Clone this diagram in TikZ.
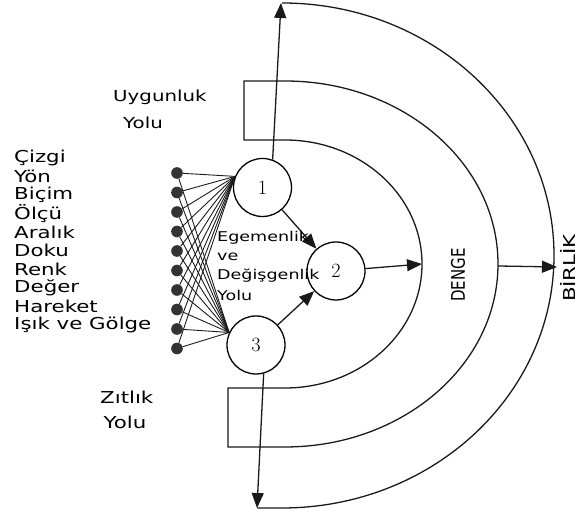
\documentclass[tikz,border=0pt]{standalone}
\usepackage{fontspec}
\newfontfamily\handfont[FakeStretch=1.3]{DejaVu Sans}
\newfontfamily\dikfont[FakeStretch=0.8]{DejaVu Sans}
\usetikzlibrary{arrows.meta,positioning,calc}
\tikzset{
  yolline/.style={line width=1.1pt, black!90},
  yolarrow/.style={yolline, -{Triangle[length=4.5mm,width=3.6mm]}},
  bag/.style={line width=0.75pt, black!90},
  unsur/.style={circle, fill=black!80, inner sep=0pt, minimum size=3.5mm},
  ilke/.style={draw, circle, line width=1.1pt, minimum size=1.74cm, inner sep=0pt, font=\LARGE},
  yazi/.style={font=\handfont\fontsize{14}{17}\selectfont, align=left, inner sep=0pt},
  yolyazi/.style={font=\handfont\fontsize{11.5}{16}\selectfont, align=left, inner sep=0pt},
  dikyazi/.style={inner sep=0pt, rotate=90}
}

\begin{document}
\begin{tikzpicture}[x=0.03cm, y=0.03cm]
  \useasboundingbox (0,0) rectangle (581,515);

  % yol bandi ve dis yay
  \draw[yolline] (244,375) -- (244,434) -- (285,434)
    arc[start angle=90, end angle=-90, x radius=213, y radius=183]
    -- (228,68) -- (228,127) -- (285,127)
    arc[start angle=-90, end angle=90, x radius=137, y radius=124] -- cycle;
  \draw[yolline] (282,512)
    arc[start angle=90, end angle=-90, x radius=272, y radius=252.5] -- (257,7);

  % ilkeler
  \node[ilke] (c1) at (262.5,327.5) {1};
  \node[ilke] (c2) at (336,244) {2};
  \node[ilke] (c3) at (256,170) {3};

  \coordinate (ust) at (281,512);
  \coordinate (alt) at (257,7);
  \coordinate (ic) at (422,251);
  \coordinate (orta) at (498,249);
  \coordinate (dis) at (557,248);

  \draw[yolarrow] (c1.70) -- (ust);
  \draw[yolarrow] (c3.-75) -- (alt);
  \draw[yolarrow] (c1) -- (c2);
  \draw[yolarrow] (c3) -- (c2);
  \draw[yolarrow] (c2) -- (ic);
  \draw[yolarrow] (orta) -- (dis);

  % ogeler
  \foreach \ad [count=\i from 0] in {Çizgi,Yön,Biçim,Ölçü,Aralık,Doku,Renk,Değer,Hareket,Işık ve Gölge} {
    \node[unsur] (u\i) at (177,{342-19.5*\i}) {};
    \node[yazi, anchor=west] (a\i) at (14,{357-18.5*\i}) {\ad};
    \draw[bag] (u\i) -- (c1.158);
    \draw[bag] (u\i) -- (c3.155);
  }

  % yazilar
  \node[yazi, font=\handfont\fontsize{13}{17}\selectfont, anchor=west] (uyg) at (113,406) {Uygunluk\\[6pt]\hspace*{3mm}Yolu};
  \node[yolyazi, anchor=west] (ege) at (217,249) {Egemenlik\\ve\\Değişgenlik\\[2pt]Yolu};
  \node[yazi, anchor=west] (zit) at (100,105) {Zıtlık\\[4pt]\hspace*{1mm}Yolu};
  \node[dikyazi, font=\dikfont\fontsize{16}{18}\selectfont] (denge) at (458,240) {DENGE};
  \node[dikyazi, font=\handfont\fontsize{14}{16}\selectfont] (birlik) at (568,247) {BİRLİK};
\end{tikzpicture}
\end{document}
